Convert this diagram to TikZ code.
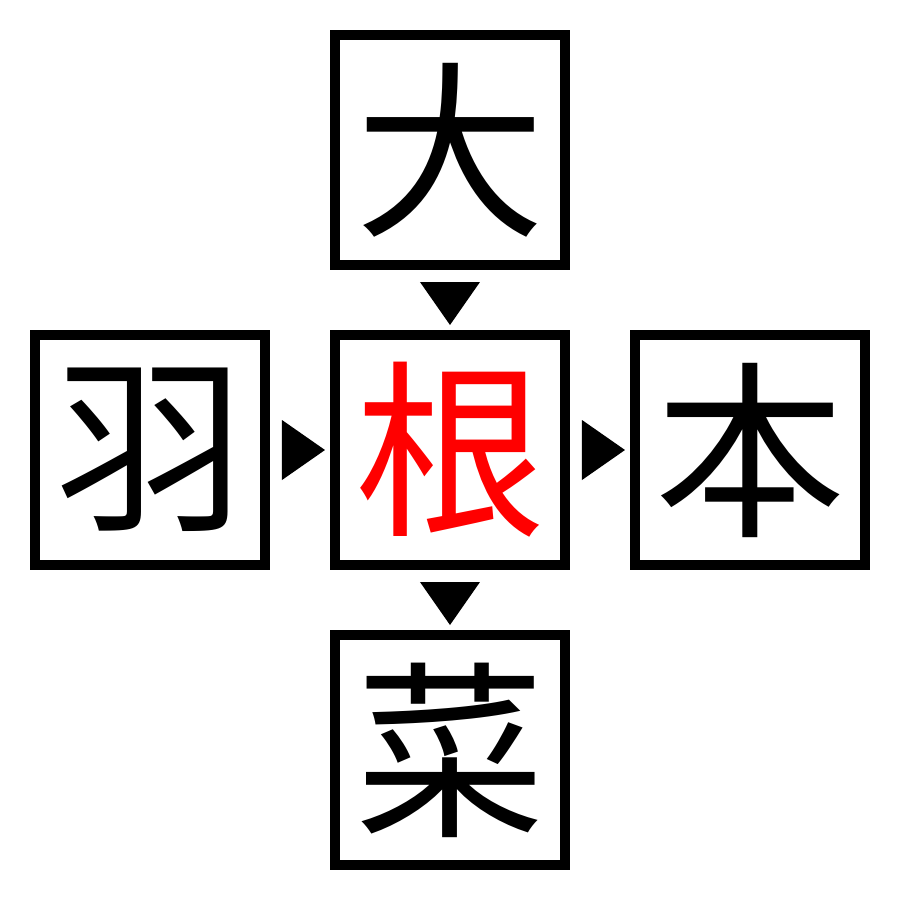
\documentclass[tikz,border=0pt]{standalone}
\usepackage{fontspec}
\newfontfamily\cjk{Noto Sans CJK JP}
\usetikzlibrary{
    positioning,
    calc
}
\tikzset{
    kanji/.style={
        rectangle,
        draw,
        line width=0.1cm,
        minimum size=2.3cm,
        inner sep=0pt,
        font=\cjk\fontsize{54}{54}\selectfont
    },
    center/.style={
        kanji,
        text=red
    },
    pointer/.style={
        fill=black
    }
}
\begin{document}
\begin{tikzpicture}
        \useasboundingbox (-4.5,-4.5) rectangle (4.5,4.5);

        % Middle (answer) box
        \node [center] (ne) at (0,0) {根};

        % Surrounding boxes
        \node [kanji, above=0.6cm of ne] (dai) {大};
        \node [kanji, left=0.6cm of ne] (ha) {羽};
        \node [kanji, right=0.6cm of ne] (hon) {本};
        \node [kanji, below=0.6cm of ne] (sai) {菜};

        % Pointers
        \coordinate (p1) at ($(dai.south)!0.5!(ne.north)$);
        \coordinate (p2) at ($(ha.east)!0.5!(ne.west)$);
        \coordinate (p3) at ($(ne.east)!0.5!(hon.west)$);
        \coordinate (p4) at ($(ne.south)!0.5!(sai.north)$);
        \fill [pointer] (p1) ++(-0.3,0.18) -- ++(0.6,0) -- ++(-0.3,-0.43) -- cycle;
        \fill [pointer] (p2) ++(-0.18,0.3) -- ++(0,-0.6) -- ++(0.43,0.3) -- cycle;
        \fill [pointer] (p3) ++(-0.18,0.3) -- ++(0,-0.6) -- ++(0.43,0.3) -- cycle;
        \fill [pointer] (p4) ++(-0.3,0.18) -- ++(0.6,0) -- ++(-0.3,-0.43) -- cycle;
\end{tikzpicture}
\end{document}
